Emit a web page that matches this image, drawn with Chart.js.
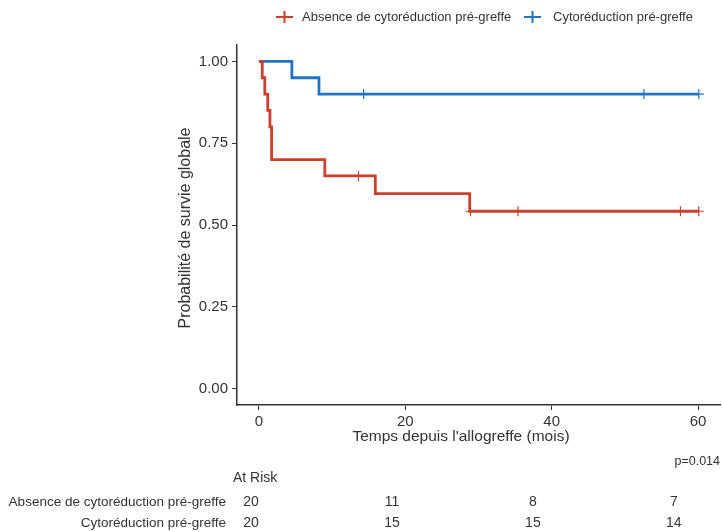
<!DOCTYPE html>
<html>
<head>
<meta charset="utf-8">
<script src="https://cdn.jsdelivr.net/npm/chart.js@4.4.0/dist/chart.umd.min.js"></script>
<style>
  html, body { margin: 0; padding: 0; background: #fff; }
  #wrap { width: 722px; height: 532px; }
</style>
</head>
<body>
<div id="wrap"><canvas id="km"></canvas></div>
<script>
// Kaplan-Meier data
const groups = ['Absence de cytoréduction pré-greffe', 'Cytoréduction pré-greffe'];
const groupColors = ['#C9412C', '#1F75C3'];

const redTimes = [0, 0.45, 0.8, 1.2, 1.5, 1.73, 9.0, 15.9, 28.8, 60.1];
const redSurv = [1, 0.95, 0.90, 0.85, 0.80, 0.70, 0.65, 0.596, 0.542, 0.542];
const redCensorTimes = [13.6, 28.9, 35.4, 57.6, 60.1];
const redCensorSurv = [0.65, 0.542, 0.542, 0.542, 0.542];

const blueTimes = [0, 4.5, 8.2, 60.1];
const blueSurv = [1, 0.95, 0.90, 0.90];
const blueCensorTimes = [14.3, 52.6, 60.1];
const blueCensorSurv = [0.90, 0.90, 0.90];

const xTicks = [0, 20, 40, 60];
const yTicks = [0, 0.25, 0.5, 0.75, 1];

const riskTimes = [0, 20, 40, 60];
const riskRed = [20, 11, 8, 7];
const riskBlue = [20, 15, 15, 14];
const pValue = 'p=0.014';

const FONT = '"Liberation Sans", Arial, sans-serif';
const toPts = (xs, ys) => xs.map((x, i) => ({ x, y: ys[i] }));

// legend, titles and the at-risk table
const extras = {
    id: 'extras',
    afterDraw(chart) {
        const ctx = chart.ctx;
        const xs = chart.scales.x;
        ctx.save();
        ctx.fillStyle = '#333';

        // legend
        ctx.font = '13px ' + FONT;
        ctx.textBaseline = 'middle';
        const legendItems = [[276, 302], [524, 553]];
        legendItems.forEach(([lx, tx], i) => {
            ctx.strokeStyle = groupColors[i];
            ctx.lineWidth = 2;
            ctx.beginPath();
            ctx.moveTo(lx, 17); ctx.lineTo(lx + 17, 17);
            ctx.moveTo(lx + 8.5, 11); ctx.lineTo(lx + 8.5, 23);
            ctx.stroke();
            ctx.fillStyle = '#333';
            ctx.fillText(groups[i], tx, 17);
        });

        // axis titles
        ctx.font = '15.5px ' + FONT;
        ctx.textAlign = 'center';
        ctx.fillText("Temps depuis l'allogreffe (mois)", 461, 437);
        ctx.save();
        ctx.font = '16px ' + FONT;
        ctx.translate(186, 228);
        ctx.rotate(-Math.PI / 2);
        ctx.fillText('Probabilité de survie globale', 0, 0);
        ctx.restore();

        // p-value
        ctx.font = '12.5px ' + FONT;
        ctx.textAlign = 'right';
        ctx.fillText(pValue, 720, 462);

        // at risk table
        ctx.font = '14px ' + FONT;
        ctx.textAlign = 'left';
        ctx.fillText('At Risk', 233, 478);
        ctx.textAlign = 'right';
        ctx.font = '13.5px ' + FONT;
        ctx.fillText(groups[0], 226, 502);
        ctx.fillText(groups[1], 226, 523);
        ctx.textAlign = 'center';
        ctx.font = '14px ' + FONT;
        const x0 = xs.getPixelForValue(0);
        riskTimes.forEach((t, i) => {
            const px = 251 + (xs.getPixelForValue(t) - x0) * 0.963;
            ctx.fillText(String(riskRed[i]), px, 502);
            ctx.fillText(String(riskBlue[i]), px, 523);
        });
        ctx.restore();
    }
};

new Chart(document.getElementById('km'), {
    type: 'line',
    data: {
        datasets: [
            {
                label: groups[0],
                data: toPts(redTimes, redSurv),
                borderColor: groupColors[0],
                borderWidth: 2.8,
                stepped: true,
                pointRadius: 0,
                fill: false
            },
            {
                label: groups[1],
                data: toPts(blueTimes, blueSurv),
                borderColor: groupColors[1],
                borderWidth: 2.8,
                stepped: true,
                pointRadius: 0,
                fill: false
            },
            {
                type: 'scatter',
                data: toPts(redCensorTimes, redCensorSurv),
                pointStyle: 'cross',
                pointRadius: 5,
                borderColor: groupColors[0],
                borderWidth: 1.2
            },
            {
                type: 'scatter',
                data: toPts(blueCensorTimes, blueCensorSurv),
                pointStyle: 'cross',
                pointRadius: 5,
                borderColor: groupColors[1],
                borderWidth: 1.2
            }
        ]
    },
    options: {
        responsive: true, maintainAspectRatio: false,
        animation: false,
        layout: { autoPadding: false, padding: { left: 0, right: 2, top: 45, bottom: 82 } },
        plugins: { legend: { display: false }, tooltip: { enabled: false } },
        scales: {
            x: {
                type: 'linear', min: -3, max: 63,
                afterBuildTicks: s => { s.ticks = xTicks.map(v => ({ value: v })); },
                afterFit: s => { s.height = 45; s.paddingLeft = 0; s.paddingRight = 0; },
                grid: { drawOnChartArea: false, drawTicks: true, tickLength: 5, color: '#333', lineWidth: 1 },
                border: { display: true, color: '#333', width: 1.5 },
                ticks: { color: '#333', font: { family: FONT, size: 15 }, padding: 3, maxRotation: 0 }
            },
            y: {
                type: 'linear', min: -0.05, max: 1.05,
                afterBuildTicks: s => { s.ticks = yTicks.map(v => ({ value: v })); },
                afterFit: s => { s.width = 237; s.paddingTop = 0; s.paddingBottom = 0; },
                grid: { drawOnChartArea: false, drawTicks: true, tickLength: 5, color: '#333', lineWidth: 1 },
                border: { display: true, color: '#333', width: 1.5 },
                ticks: { color: '#333', font: { family: FONT, size: 15 }, padding: 4,
                    callback: v => v.toFixed(2) }
            }
        }
    },
    plugins: [extras]
});
</script>
</body>
</html>
